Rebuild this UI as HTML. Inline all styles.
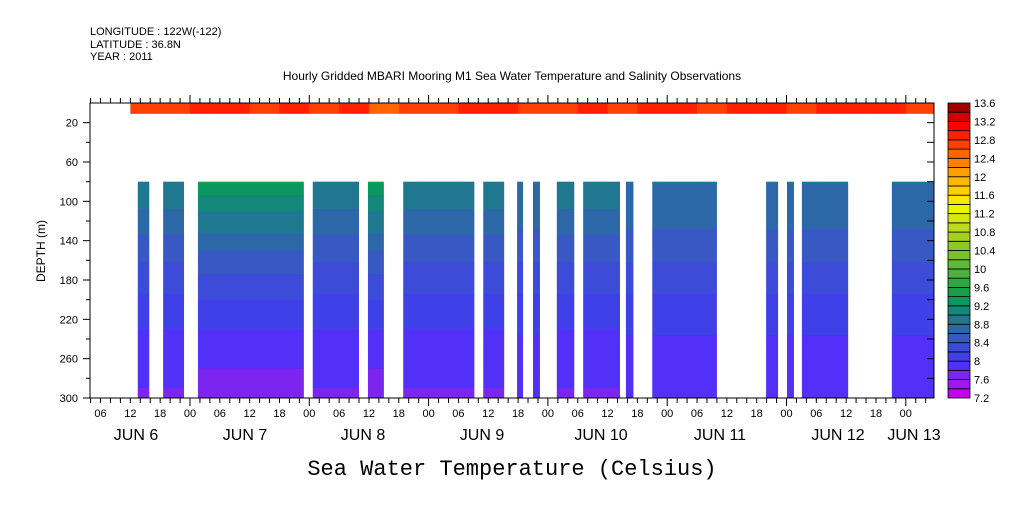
<!DOCTYPE html>
<html><head><meta charset="utf-8"><style>
body{margin:0;background:#fff;width:1009px;height:504px;overflow:hidden}
svg text{font-family:"Liberation Sans",sans-serif;fill:#000}
</style></head><body>
<svg id="chart" width="1009" height="504" xmlns="http://www.w3.org/2000/svg">
<text x="90" y="35" font-size="11">LONGITUDE : 122W(-122)</text>
<text x="90" y="48" font-size="11">LATITUDE : 36.8N</text>
<text x="90" y="60" font-size="11">YEAR : 2011</text>
<text x="512" y="80" font-size="12" text-anchor="middle">Hourly Gridded MBARI Mooring M1 Sea Water Temperature and Salinity Observations</text>
<text transform="translate(45,251) rotate(-90)" font-size="12" text-anchor="middle">DEPTH (m)</text>
<text x="512" y="475" font-size="22" text-anchor="middle" style="font-family:'Liberation Mono',monospace">Sea Water Temperature (Celsius)</text>
<g id="marks"></g><g id="axes"></g><g id="cbar"></g>
</svg>
<script>
// hours since Jun 6 00:00
const segStart=[13.5,18.6,25.6,48.7,59.8,66.9,83.0,89.8,93.0,97.8,103.1,111.7,117.0,139.9,144.1,147.1,165.2];
const segEnd=[15.8,22.8,46.9,58.0,63.0,81.2,87.2,91.0,94.4,101.3,110.5,113.2,130.0,142.3,145.5,156.4,173.7];
const profDepths=[80,100,120,140,160,180,200,220,240,260,280,300];
const profA=[9.4,9.1,8.9,8.7,8.5,8.35,8.2,8.05,7.95,7.85,7.75,7.65];
const profB=[9.0,8.85,8.7,8.55,8.4,8.3,8.15,8.05,7.95,7.9,7.85,7.75];
const profC=[8.8,8.75,8.65,8.5,8.4,8.3,8.15,8.05,7.98,7.92,7.88,7.82];
const segProfile=["B","B","A","B","A","B","B","C","C","B","B","C","C","C","C","C","C"];
const surfHours=[12,18,24,30,36,42,48,54,60,66,72,78,84,90,96,102,108,114,120,126,132,138,144,150,156,162,168,174];
const surfTemps=[12.7,12.7,12.8,13.0,12.7,12.8,12.7,12.9,12.6,12.7,12.7,12.9,12.8,12.7,12.7,12.8,12.7,12.8,12.9,12.7,12.8,12.8,12.7,12.9,12.8,12.8,12.7,12.7];
const colors=["#c800f0","#a018f0","#7c24f0","#5230f8","#4040e8","#3c4cd8","#3858c4","#2c68a8","#207890","#148878","#0a9860","#18a048","#30a840","#4cb03c","#60b838","#78c030","#8cc828","#a4d020","#bcdc18","#d4e810","#ecf400","#f8e800","#ffd000","#ffb800","#ffa000","#ff8000","#ff6400","#ff4000","#ff2000","#ff0000","#d00000","#a00000"];
const cbLabels=["7.2","7.6","8","8.4","8.8","9.2","9.6","10","10.4","10.8","11.2","11.6","12","12.4","12.8","13.2","13.6"];
const X0=90,X1=934,Y0=103,Y1=398,H0=70.7,PXH=119.3/24;
const xs=h=>H0+h*PXH, ys=d=>Y0+d*(Y1-Y0)/300;
const col=t=>colors[Math.max(0,Math.min(31,Math.floor((t-7.2)/0.2)))];
const NS="http://www.w3.org/2000/svg";
function mk(tag,attrs,parent){const e=document.createElementNS(NS,tag);for(const k in attrs)e.setAttribute(k,attrs[k]);parent.appendChild(e);return e;}
const marks=document.getElementById('marks'),axes=document.getElementById('axes'),cb=document.getElementById('cbar');
const profs={A:profA,B:profB,C:profC};
segStart.forEach((s,i)=>{
  const g=mk('g',{},marks);
  
  
  const p=profs[segProfile[i]];
  for(let d=80;d<300;d+=2){
    const k=Math.min(10,Math.floor((d-80)/20)),f=(d-profDepths[k])/20;
    const t=p[k]+(p[k+1]-p[k])*f;
    mk('rect',{x:xs(s),y:ys(d),width:xs(segEnd[i])-xs(s),height:ys(d+2)-ys(d)+0.5,fill:col(t)},g);
  }
});
const sg=mk('g',{},marks);


for(let i=0;i<surfHours.length-1;i++){
  const x0=Math.max(xs(surfHours[i]),130),x1=Math.min(xs(surfHours[i+1]),X1);
  if(x1<=x0)continue;
  mk('rect',{x:x0,y:Y0,width:x1-x0+0.5,height:ys(11)-Y0,fill:col(surfTemps[i])},sg);
}
mk('rect',{x:X0,y:Y0,width:X1-X0,height:Y1-Y0,fill:'none',stroke:'#000','stroke-width':1},axes);
for(let h=4;h<=174;h+=2){
  const x=xs(h);if(x<X0||x>X1)continue;
  const big=h%24==0;
  mk('line',{x1:x,x2:x,y1:Y1,y2:Y1+(big?8:5),stroke:'#000'},axes);
  mk('line',{x1:x,x2:x,y1:Y0,y2:Y0-(big?8:5),stroke:'#000'},axes);
  if(h%6==0){const t=mk('text',{x:x,y:Y1+19,'font-size':11,'text-anchor':'middle'},axes);t.textContent=String(h%24).padStart(2,'0');
  }
}
const days=[["JUN   6",136],["JUN   7",245],["JUN   8",363],["JUN   9",482],["JUN 10",601],["JUN 11",720],["JUN 12",838],["JUN 13",914]];
days.forEach(([l,x])=>{const t=mk('text',{x:x,y:440,'font-size':16,'text-anchor':'middle','xml:space':'preserve'},axes);t.textContent=l;
});
for(let d=20;d<=300;d+=20){
  const y=ys(d);
  mk('line',{x1:X0,x2:X0-(d%40==20?7:4),y1:y,y2:y,stroke:'#000'},axes);
  mk('line',{x1:X1,x2:X1-7,y1:y,y2:y,stroke:'#000'},axes);
  if((d-20)%40==0){const t=mk('text',{x:X0-12,y:y+4,'font-size':11,'text-anchor':'end'},axes);t.textContent=d;
  }
}
const bh=(Y1-Y0)/32;
colors.forEach((c,i)=>{const r=mk('rect',{x:948,y:Y1-(i+1)*bh,width:22,height:bh,fill:c,stroke:'#000','stroke-width':0.8},cb);
});
cbLabels.forEach((l,i)=>{const t=mk('text',{x:974,y:Y1-i*2*bh+4,'font-size':11},cb);t.textContent=l;
});
</script>
</body></html>
